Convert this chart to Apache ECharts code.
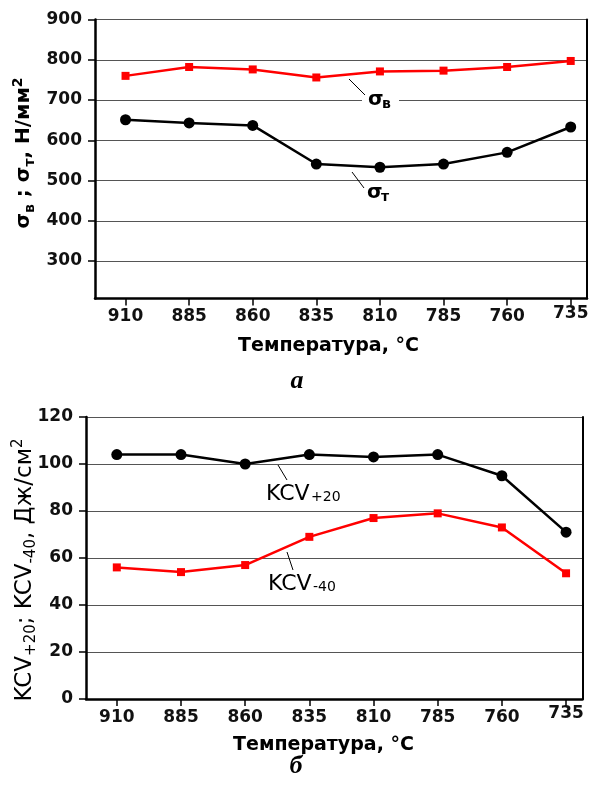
<!DOCTYPE html>
<html><head><meta charset="utf-8">
<script src="https://cdn.jsdelivr.net/npm/echarts@6/dist/echarts.min.js"></script>
<style>html,body{margin:0;padding:0;background:#fff}#c{width:597px;height:791px}</style>
</head><body><div id="c"></div>
<script>
// ---- data ----
const temps = [910, 885, 860, 835, 810, 785, 760, 735];
const sigmaB = [760, 782, 776, 756, 771, 773, 782, 797];
const sigmaT = [651, 643, 637, 541, 533, 541, 570, 633];
const kcv20 = [104, 104, 100, 104, 103, 104, 95, 71];
const kcv40 = [56, 54, 57, 69, 77, 79, 73, 53.5];
const xTickLabels = [910, 885, 860, 835, 810, 785, 760, 735];
const yTicksTop = [300, 400, 500, 600, 700, 800, 900];
const yTicksBottom = [0, 20, 40, 60, 80, 100, 120];

const F = 'DejaVu Sans';
const chart = echarts.init(document.getElementById('c'), null, {renderer: 'canvas'});

function xAxisCfg(gi) {
  return {
    type: 'value', gridIndex: gi, inverse: true, min: 728.6, max: 922,
    axisLine: {show: true, lineStyle: {color: '#000', width: 2.5}},
    axisTick: {show: true, customValues: xTickLabels, length: 7, lineStyle: {color: '#000', width: 1.5}},
    axisLabel: {
      customValues: xTickLabels, margin: 10,
      color: '#111', fontFamily: F, fontWeight: 'bold', fontSize: 17,
      formatter: v => (v === 735 ? '{r|735}' : String(v)),
      rich: {r: {fontFamily: F, fontWeight: 'bold', fontSize: 17, color: '#111', lineHeight: 10}}
    },
    splitLine: {show: false}
  };
}
function yAxisCfg(gi, min, max, ticks, extra) {
  return Object.assign({
    type: 'value', gridIndex: gi, min: min, max: max,
    axisLine: {show: true, lineStyle: {color: '#000', width: 2.5}},
    axisTick: {show: true, length: 7, lineStyle: {color: '#000', width: 1.5}},
    axisLabel: {showMinLabel: ticks.indexOf(min) >= 0, margin: 13, color: '#111', fontFamily: F, fontWeight: 'bold', fontSize: 17},
    splitLine: {show: true, lineStyle: {color: '#555', width: 1.2}}
  }, extra || {});
}
function rightAxis(gi, min, max) {
  return {
    type: 'value', gridIndex: gi, position: 'right', min: min, max: max,
    axisLine: {show: true, lineStyle: {color: '#000', width: 2}},
    axisTick: {show: false}, axisLabel: {show: false}, splitLine: {show: false}
  };
}
const topMin = 207, topMax = 900;

chart.setOption({
  animation: false,
  backgroundColor: '#fff',
  grid: [
    {left: 95, top: 19.5, width: 492, height: 279},
    {left: 86, top: 417, width: 496.5, height: 282}
  ],
  xAxis: [xAxisCfg(0), xAxisCfg(1)],
  yAxis: [
    yAxisCfg(0, topMin, topMax, yTicksTop, {splitNumber: 7, minInterval: 100, maxInterval: 100}),
    yAxisCfg(1, yTicksBottom[0], yTicksBottom[yTicksBottom.length - 1], yTicksBottom, {interval: 20}),
    rightAxis(0, topMin, topMax),
    rightAxis(1, yTicksBottom[0], yTicksBottom[yTicksBottom.length - 1])
  ],
  series: [
    {type: 'line', xAxisIndex: 0, yAxisIndex: 0, data: temps.map((t, i) => [t, sigmaB[i]]),
     symbol: 'rect', symbolSize: 8, lineStyle: {color: '#f00', width: 2.5}, itemStyle: {color: '#f00'}, z: 3},
    {type: 'line', xAxisIndex: 0, yAxisIndex: 0, data: temps.map((t, i) => [t, sigmaT[i]]),
     symbol: 'circle', symbolSize: 11, lineStyle: {color: '#000', width: 2.5}, itemStyle: {color: '#000'}, z: 3},
    {type: 'line', xAxisIndex: 1, yAxisIndex: 1, data: temps.map((t, i) => [t, kcv20[i]]),
     symbol: 'circle', symbolSize: 11, lineStyle: {color: '#000', width: 2.5}, itemStyle: {color: '#000'}, z: 3},
    {type: 'line', xAxisIndex: 1, yAxisIndex: 1, data: temps.map((t, i) => [t, kcv40[i]]),
     symbol: 'rect', symbolSize: 8, lineStyle: {color: '#f00', width: 2.5}, itemStyle: {color: '#f00'}, z: 3}
  ],
  graphic: [
    // top y-axis title
    {type: 'text', x: 24, y: 153, rotation: Math.PI / 2, z: 100,
     style: {text: '{m|σ}{s|в}{m| ; σ}{s|т}{m|, Н/мм}{p|2}', align: 'center', verticalAlign: 'middle', fill: '#000',
       rich: {
         m: {fontFamily: F, fontWeight: 'bold', fontSize: 20, lineHeight: 26, fill: '#000'},
         s: {fontFamily: F, fontWeight: 'bold', fontSize: 14, verticalAlign: 'bottom', fill: '#000'},
         p: {fontFamily: F, fontWeight: 'bold', fontSize: 14, verticalAlign: 'top', fill: '#000'}
       }}},
    // bottom y-axis title
    {type: 'text', x: 25, y: 570, rotation: Math.PI / 2, z: 100,
     style: {text: '{m|KCV}{s|+20}{m|; KCV}{s|-40}{m|, Дж/см}{p|2}', align: 'center', verticalAlign: 'middle', fill: '#000',
       rich: {
         m: {fontFamily: F, fontSize: 23, lineHeight: 28, fill: '#000'},
         s: {fontFamily: F, fontSize: 15, verticalAlign: 'bottom', fill: '#000'},
         p: {fontFamily: F, fontSize: 15, verticalAlign: 'top', fill: '#000'}
       }}},
    // x titles
    {type: 'text', x: 328.5, y: 346, z: 100, style: {text: 'Температура, °С', font: 'bold 19px "DejaVu Sans"', align: 'center', verticalAlign: 'middle', fill: '#000'}},
    {type: 'text', x: 323.5, y: 745.5, z: 100, style: {text: 'Температура, °С', font: 'bold 19px "DejaVu Sans"', align: 'center', verticalAlign: 'middle', fill: '#000'}},
    // panel letters
    {type: 'text', x: 297, y: 381, z: 100, style: {text: 'а', font: 'italic bold 26px "Liberation Serif"', align: 'center', verticalAlign: 'middle', fill: '#000'}},
    {type: 'text', x: 296, y: 766, z: 100, style: {text: 'б', font: 'italic bold 26px "Liberation Serif"', align: 'center', verticalAlign: 'middle', fill: '#000'}},
    // sigma B annotation
    {type: 'line', z: 100, shape: {x1: 349, y1: 79, x2: 365, y2: 95}, style: {stroke: '#000', lineWidth: 1}},
    {type: 'rect', z: 99, shape: {x: 362, y: 95, width: 37, height: 16}, style: {fill: '#fff'}},
    {type: 'text', x: 368, y: 100, z: 100, style: {text: 'σ', font: 'bold 20px "DejaVu Sans"', align: 'left', verticalAlign: 'middle', fill: '#000'}},
    {type: 'text', x: 382, y: 104.5, z: 100, style: {text: 'в', font: 'bold 14px "DejaVu Sans"', align: 'left', verticalAlign: 'middle', fill: '#000'}},
    // sigma T annotation
    {type: 'line', z: 100, shape: {x1: 352, y1: 172, x2: 364, y2: 188}, style: {stroke: '#000', lineWidth: 1}},
    {type: 'text', x: 367, y: 193, z: 100, style: {text: 'σ', font: 'bold 20px "DejaVu Sans"', align: 'left', verticalAlign: 'middle', fill: '#000'}},
    {type: 'text', x: 381, y: 197.5, z: 100, style: {text: 'т', font: 'bold 14px "DejaVu Sans"', align: 'left', verticalAlign: 'middle', fill: '#000'}},
    // KCV+20 annotation
    {type: 'line', z: 100, shape: {x1: 278, y1: 465, x2: 287, y2: 480}, style: {stroke: '#000', lineWidth: 1}},
    {type: 'text', x: 266, y: 494.5, z: 100, style: {text: 'KCV', font: '22px "DejaVu Sans"', align: 'left', verticalAlign: 'middle', fill: '#000'}},
    {type: 'text', x: 311, y: 497.5, z: 100, style: {text: '+20', font: '14px "DejaVu Sans"', align: 'left', verticalAlign: 'middle', fill: '#000'}},
    // KCV-40 annotation
    {type: 'line', z: 100, shape: {x1: 287, y1: 552, x2: 293, y2: 570}, style: {stroke: '#000', lineWidth: 1}},
    {type: 'text', x: 268, y: 584.5, z: 100, style: {text: 'KCV', font: '22px "DejaVu Sans"', align: 'left', verticalAlign: 'middle', fill: '#000'}},
    {type: 'text', x: 313, y: 587.5, z: 100, style: {text: '-40', font: '14px "DejaVu Sans"', align: 'left', verticalAlign: 'middle', fill: '#000'}}
  ]
});
</script></body></html>
